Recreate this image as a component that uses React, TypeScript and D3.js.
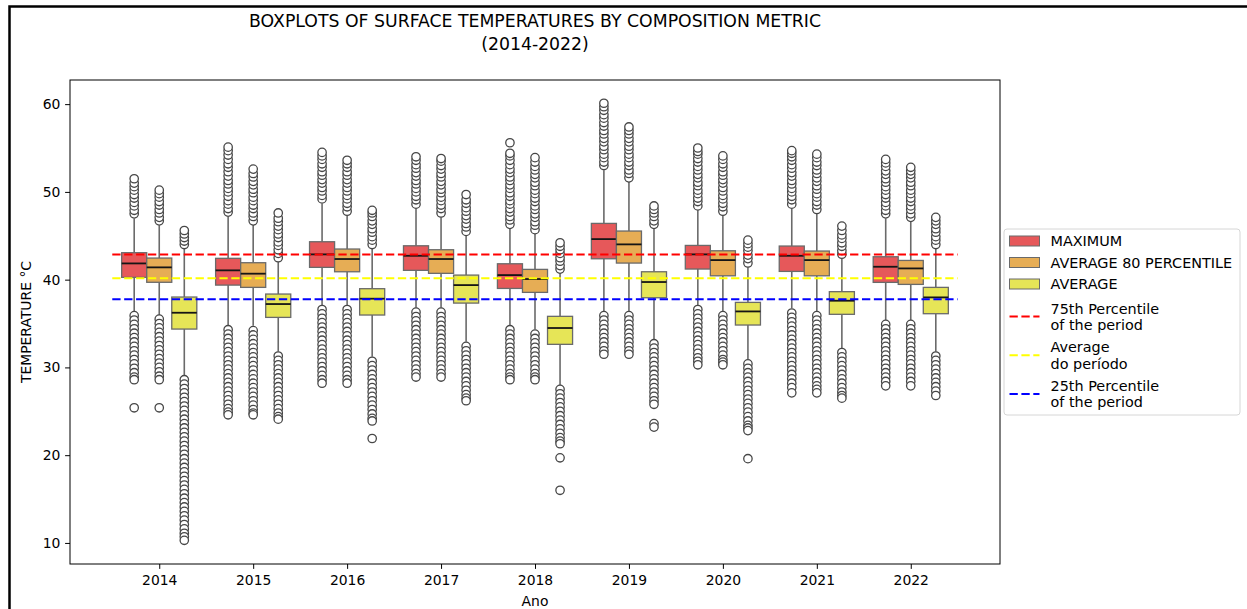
import React, { useEffect, useRef } from 'react';
import * as d3 from 'd3';

const years = ['2014', '2015', '2016', '2017', '2018', '2019', '2020', '2021', '2022'];
const metrics = ['MAXIMUM', 'AVERAGE 80 PERCENTILE', 'AVERAGE'];
const metricColors = ['#e6585a', '#e6ad55', '#e6e557'];

// [lower whisker, q1, median, q3, upper whisker] for each year
const maximumStats = [
  [36.35, 40.26, 41.85, 43.07, 46.98],
  [34.83, 39.38, 41.06, 42.43, 47.17],
  [37.1, 41.4, 42.88, 44.32, 48.69],
  [36.8, 41.06, 42.72, 43.86, 48.12],
  [34.83, 39.0, 40.52, 41.81, 45.84],
  [36.42, 42.38, 44.62, 46.41, 52.48],
  [37.1, 41.21, 42.88, 43.9, 47.93],
  [36.73, 40.94, 42.72, 43.83, 48.12],
  [35.4, 39.69, 41.47, 42.61, 46.98],
];
const avg80Stats = [
  [35.97, 39.7, 41.4, 42.46, 46.2],
  [34.75, 39.12, 40.68, 41.93, 46.22],
  [37.1, 40.9, 42.35, 43.49, 47.36],
  [36.8, 40.72, 42.35, 43.41, 47.17],
  [34.33, 38.55, 40.07, 41.17, 45.27],
  [36.42, 41.89, 44.02, 45.54, 51.15],
  [36.35, 40.44, 42.23, 43.29, 47.36],
  [36.35, 40.44, 42.23, 43.26, 47.55],
  [35.4, 39.46, 41.28, 42.19, 46.6],
];
const averageStats = [
  [29.1, 34.37, 36.23, 38.02, 43.56],
  [31.79, 35.7, 37.22, 38.36, 42.04],
  [31.22, 35.97, 37.83, 38.97, 43.56],
  [32.93, 37.33, 39.38, 40.52, 45.08],
  [28.0, 32.63, 34.49, 35.82, 40.72],
  [33.23, 37.94, 39.73, 40.9, 45.84],
  [30.92, 34.83, 36.38, 37.41, 41.47],
  [32.17, 36.05, 37.6, 38.63, 42.43],
  [31.79, 36.12, 37.98, 39.12, 43.56],
];

// outliers, per year
const maximumFliers = [
  [47.5, 47.9, 48.4, 48.8, 49.3, 49.7, 50.2, 50.6, 51.0, 51.5, 35.9, 35.4, 34.9, 34.4, 33.9, 33.4, 32.9, 32.4, 31.9, 31.4, 30.9, 30.4, 29.9, 29.4, 28.9, 28.6, 25.4],
  [47.7, 48.1, 48.6, 49.0, 49.5, 50.0, 50.4, 50.9, 51.3, 51.8, 52.3, 52.8, 53.2, 53.7, 54.2, 54.7, 55.1, 34.3, 33.8, 33.3, 32.8, 32.3, 31.8, 31.3, 30.8, 30.3, 29.8, 29.3, 28.8, 28.3, 27.8, 27.3, 26.8, 26.3, 25.8, 25.3, 24.9, 24.6],
  [49.2, 49.6, 50.1, 50.5, 51.0, 51.4, 51.9, 52.3, 52.8, 53.2, 53.7, 54.1, 54.5, 36.6, 36.1, 35.6, 35.1, 34.6, 34.1, 33.6, 33.1, 32.6, 32.1, 31.6, 31.1, 30.6, 30.1, 29.6, 29.1, 28.6, 28.2],
  [48.6, 49.1, 49.5, 50.0, 50.4, 50.9, 51.3, 51.8, 52.2, 52.7, 53.1, 53.6, 54.0, 36.3, 35.8, 35.3, 34.8, 34.3, 33.8, 33.3, 32.8, 32.3, 31.8, 31.3, 30.8, 30.3, 29.8, 29.3, 28.9],
  [46.3, 46.8, 47.2, 47.7, 48.1, 48.6, 49.0, 49.5, 49.9, 50.4, 50.8, 51.3, 51.7, 52.2, 52.6, 53.1, 53.6, 54.1, 54.4, 55.6, 34.3, 33.8, 33.3, 32.8, 32.3, 31.8, 31.3, 30.8, 30.3, 29.8, 29.3, 28.9, 28.6],
  [53.0, 53.4, 53.9, 54.3, 54.8, 55.2, 55.7, 56.1, 56.6, 57.0, 57.5, 57.9, 58.4, 58.8, 59.3, 59.7, 60.1, 35.9, 35.4, 34.9, 34.4, 33.9, 33.4, 32.9, 32.4, 31.9, 31.5],
  [48.4, 48.9, 49.3, 49.8, 50.2, 50.7, 51.1, 51.6, 52.0, 52.5, 52.9, 53.4, 53.8, 54.3, 54.6, 55.0, 36.6, 36.1, 35.6, 35.1, 34.6, 34.1, 33.6, 33.1, 32.6, 32.1, 31.6, 31.1, 30.7, 30.3],
  [48.6, 49.1, 49.5, 50.0, 50.4, 50.9, 51.3, 51.8, 52.2, 52.7, 53.1, 53.6, 54.0, 54.4, 54.7, 36.2, 35.7, 35.2, 34.7, 34.2, 33.7, 33.2, 32.7, 32.2, 31.7, 31.2, 30.7, 30.2, 29.7, 29.2, 28.7, 28.2, 27.7, 27.1],
  [47.5, 47.9, 48.4, 48.8, 49.3, 49.7, 50.2, 50.6, 51.1, 51.5, 52.0, 52.4, 52.9, 53.3, 53.7, 34.9, 34.4, 33.9, 33.4, 32.9, 32.4, 31.9, 31.4, 30.9, 30.4, 29.9, 29.4, 28.9, 28.4, 27.9],
];
const avg80Fliers = [
  [46.7, 47.1, 47.6, 48.0, 48.5, 48.9, 49.4, 49.8, 50.2, 35.5, 35.0, 34.5, 34.0, 33.5, 33.0, 32.5, 32.0, 31.5, 31.0, 30.5, 30.0, 29.5, 29.0, 28.6, 25.4],
  [46.7, 47.2, 47.6, 48.1, 48.5, 49.0, 49.4, 49.9, 50.3, 50.8, 51.2, 51.7, 52.1, 52.6, 34.2, 33.7, 33.2, 32.7, 32.2, 31.7, 31.2, 30.7, 30.2, 29.7, 29.2, 28.7, 28.2, 27.7, 27.2, 26.7, 26.2, 25.7, 25.2, 24.8, 24.6],
  [47.8, 48.3, 48.7, 49.2, 49.6, 50.1, 50.5, 51.0, 51.4, 51.9, 52.3, 52.8, 53.2, 53.6, 36.6, 36.1, 35.6, 35.1, 34.6, 34.1, 33.6, 33.1, 32.6, 32.1, 31.6, 31.1, 30.6, 30.1, 29.6, 29.1, 28.6, 28.2],
  [47.6, 48.1, 48.5, 49.0, 49.4, 49.9, 50.3, 50.8, 51.2, 51.7, 52.1, 52.6, 53.0, 53.5, 53.8, 36.3, 35.8, 35.3, 34.8, 34.3, 33.8, 33.3, 32.8, 32.3, 31.8, 31.3, 30.8, 30.3, 29.8, 29.3, 28.9],
  [45.7, 46.2, 46.6, 47.1, 47.5, 48.0, 48.4, 48.9, 49.3, 49.8, 50.2, 50.7, 51.1, 51.6, 52.0, 52.5, 52.9, 53.4, 53.9, 33.8, 33.3, 32.8, 32.3, 31.8, 31.3, 30.8, 30.3, 29.8, 29.3, 28.9, 28.6],
  [51.6, 52.1, 52.5, 53.0, 53.4, 53.9, 54.3, 54.8, 55.2, 55.7, 56.1, 56.6, 57.0, 57.4, 35.9, 35.4, 34.9, 34.4, 33.9, 33.4, 32.9, 32.4, 31.9, 31.5],
  [47.8, 48.3, 48.7, 49.2, 49.6, 50.1, 50.5, 51.0, 51.4, 51.9, 52.3, 52.8, 53.2, 53.7, 54.1, 35.9, 35.4, 34.9, 34.4, 33.9, 33.4, 32.9, 32.4, 31.9, 31.4, 30.9, 30.6, 30.3],
  [48.0, 48.5, 48.9, 49.4, 49.8, 50.3, 50.7, 51.2, 51.6, 52.1, 52.5, 53.0, 53.4, 53.9, 54.3, 35.9, 35.4, 34.9, 34.4, 33.9, 33.4, 32.9, 32.4, 31.9, 31.4, 30.9, 30.4, 29.9, 29.4, 28.9, 28.4, 27.9, 27.5, 27.1],
  [47.1, 47.5, 48.0, 48.4, 48.9, 49.3, 49.8, 50.2, 50.7, 51.1, 51.6, 52.0, 52.4, 52.8, 34.9, 34.4, 33.9, 33.4, 32.9, 32.4, 31.9, 31.4, 30.9, 30.4, 29.9, 29.4, 28.9, 28.4, 27.9],
];
const averageFliers = [
  [44.0, 44.4, 44.8, 45.2, 45.6, 28.6, 28.1, 27.6, 27.1, 26.6, 26.1, 25.6, 25.1, 24.6, 24.1, 23.6, 23.1, 22.6, 22.1, 21.6, 21.1, 20.6, 20.1, 19.6, 19.1, 18.6, 18.1, 17.6, 17.1, 16.6, 16.1, 15.6, 15.1, 14.6, 14.1, 13.6, 13.1, 12.6, 12.1, 11.6, 11.1, 10.7, 10.3],
  [42.5, 43.0, 43.4, 43.9, 44.3, 44.8, 45.2, 45.7, 46.1, 46.6, 47.0, 47.6, 31.3, 30.8, 30.3, 29.8, 29.3, 28.8, 28.3, 27.8, 27.3, 26.8, 26.3, 25.8, 25.3, 24.8, 24.4, 24.1],
  [44.0, 44.5, 44.9, 45.4, 45.8, 46.3, 46.7, 47.2, 47.6, 47.9, 30.7, 30.2, 29.7, 29.2, 28.7, 28.2, 27.7, 27.2, 26.7, 26.2, 25.7, 25.2, 24.7, 24.2, 23.9, 21.9],
  [45.5, 46.0, 46.4, 46.9, 47.3, 47.8, 48.2, 48.7, 49.1, 49.7, 32.4, 31.9, 31.4, 30.9, 30.4, 29.9, 29.4, 28.9, 28.4, 27.9, 27.4, 26.9, 26.5, 26.2],
  [41.2, 41.6, 42.1, 42.5, 43.0, 43.4, 43.8, 44.2, 27.5, 27.0, 26.5, 26.0, 25.5, 25.0, 24.5, 24.0, 23.5, 23.0, 22.5, 22.0, 21.6, 21.3, 19.7, 16.0],
  [46.3, 46.7, 47.2, 47.6, 48.0, 48.4, 32.7, 32.2, 31.7, 31.2, 30.7, 30.2, 29.7, 29.2, 28.7, 28.2, 27.7, 27.2, 26.7, 26.2, 25.8, 23.6, 23.2],
  [41.9, 42.4, 42.8, 43.3, 43.7, 44.1, 44.5, 30.4, 29.9, 29.4, 28.9, 28.4, 27.9, 27.4, 26.9, 26.4, 25.9, 25.4, 24.9, 24.4, 23.9, 23.4, 23.1, 22.8, 19.6],
  [42.9, 43.3, 43.8, 44.2, 44.7, 45.1, 45.6, 46.1, 31.7, 31.2, 30.7, 30.2, 29.7, 29.2, 28.7, 28.2, 27.7, 27.2, 26.8, 26.5],
  [44.0, 44.5, 44.9, 45.4, 45.8, 46.3, 46.7, 47.1, 31.3, 30.8, 30.3, 29.8, 29.3, 28.8, 28.3, 27.8, 27.3, 26.8],
];

// period reference lines
const refLabels = [['75th Percentile', 'of the period'], ['Average', 'do período'], ['25th Percentile', 'of the period']];
const refValues = [42.88, 40.15, 37.76];
const refColors = ['#ff0000', '#ffff00', '#0000ff'];

const yTicks = [10, 20, 30, 40, 50, 60];

const App = () => {
  const svgRef = useRef<SVGSVGElement>(null);

  useEffect(() => {
    const w = 1247;
    const h = 609;
    const font = 'DejaVu Sans, sans-serif';
    const svg = d3.select(svgRef.current).attr('width', w).attr('height', h);
    svg.selectAll('*').remove();

    const x = d3.scaleLinear().domain([-0.95, 8.95]).range([70, 1000]);
    const y = d3.scaleLinear().domain([7.6, 62.75]).range([564, 80]);
    const boxW = 0.8 / 3;
    const bw = x(boxW) - x(0);

    // outer figure frame
    svg.append('path').attr('d', 'M9.5,609 V6.5 H1247')
      .attr('fill', 'none').attr('stroke', '#000').attr('stroke-width', 2.5);

    // title
    const title = svg.append('text').attr('text-anchor', 'middle')
      .attr('font-family', font).attr('font-size', 17.3).attr('fill', '#000');
    title.append('tspan').attr('x', x(4)).attr('y', 27).text('BOXPLOTS OF SURFACE TEMPERATURES BY COMPOSITION METRIC');
    title.append('tspan').attr('x', x(4)).attr('y', 50).text('(2014-2022)');

    // axes
    const xAxis = d3.axisBottom(x)
      .tickValues(d3.range(years.length))
      .tickFormat((i) => years[i as number])
      .tickSize(4.9).tickSizeOuter(0);
    const gx = svg.append('g').attr('transform', 'translate(0,564)').call(xAxis);
    gx.select('.domain').remove();
    gx.selectAll('line').attr('stroke', '#000').attr('stroke-width', 1);
    gx.selectAll('text').attr('font-family', font).attr('font-size', 13.9)
      .attr('fill', '#000').attr('y', 21).attr('dy', 0);

    const yAxis = d3.axisLeft(y).tickValues(yTicks).tickSize(4.9).tickSizeOuter(0);
    const gy = svg.append('g').attr('transform', 'translate(70,0)').call(yAxis);
    gy.select('.domain').remove();
    gy.selectAll('line').attr('stroke', '#000').attr('stroke-width', 1);
    gy.selectAll('text').attr('font-family', font).attr('font-size', 13.9)
      .attr('fill', '#000').attr('x', -9.7);

    svg.append('text').attr('transform', 'translate(31,322) rotate(-90)')
      .attr('text-anchor', 'middle').attr('font-family', font).attr('font-size', 13.9)
      .text('TEMPERATURE °C');
    svg.append('text').attr('x', x(4)).attr('y', 606)
      .attr('text-anchor', 'middle').attr('font-family', font).attr('font-size', 13.9)
      .text('Ano');

    // boxes
    const series = [maximumStats, avg80Stats, averageStats];
    const fliers = [maximumFliers, avg80Fliers, averageFliers];
    const lineColor = '#6a6a6a';

    series.forEach((stats, k) => {
      const off = (k - 1) * boxW;
      const g = svg.append('g');

      g.selectAll('line.wlo').data(stats).join('line')
        .attr('x1', (d, i) => x(i + off)).attr('x2', (d, i) => x(i + off))
        .attr('y1', (d) => y(d[0])).attr('y2', (d) => y(d[1]))
        .attr('stroke', lineColor).attr('stroke-width', 1.6);
      g.selectAll('line.whi').data(stats).join('line')
        .attr('x1', (d, i) => x(i + off)).attr('x2', (d, i) => x(i + off))
        .attr('y1', (d) => y(d[3])).attr('y2', (d) => y(d[4]))
        .attr('stroke', lineColor).attr('stroke-width', 1.6);

      g.selectAll('rect.box').data(stats).join('rect')
        .attr('x', (d, i) => x(i + off) - bw / 2)
        .attr('width', bw)
        .attr('y', (d) => y(d[3]))
        .attr('height', (d) => y(d[1]) - y(d[3]))
        .attr('fill', metricColors[k])
        .attr('stroke', lineColor).attr('stroke-width', 1.3);

      g.selectAll('line.med').data(stats).join('line')
        .attr('x1', (d, i) => x(i + off) - bw / 2).attr('x2', (d, i) => x(i + off) + bw / 2)
        .attr('y1', (d) => y(d[2])).attr('y2', (d) => y(d[2]))
        .attr('stroke', '#151515').attr('stroke-width', 1.8);

      const pts = fliers[k].flatMap((vals, i) => vals.map((v) => ({ i, v })));
      g.selectAll('circle').data(pts).join('circle')
        .attr('cx', (d) => x(d.i + off)).attr('cy', (d) => y(d.v))
        .attr('r', 4.2)
        .attr('fill', '#fff').attr('stroke', '#474747').attr('stroke-width', 1.3);
    });

    // reference lines
    svg.selectAll('line.ref').data(refValues).join('line')
      .attr('x1', x(-0.5)).attr('x2', x(years.length - 0.5))
      .attr('y1', (d) => y(d)).attr('y2', (d) => y(d))
      .attr('stroke', (d, i) => refColors[i]).attr('stroke-width', 2)
      .attr('stroke-dasharray', '8.3,3.6');

    // spines
    svg.append('rect').attr('x', 70).attr('y', 80).attr('width', 930).attr('height', 484)
      .attr('fill', 'none').attr('stroke', '#000').attr('stroke-width', 1);

    // legend
    const lg = svg.append('g').attr('transform', 'translate(1004,229)');
    lg.append('rect').attr('width', 236).attr('height', 186).attr('rx', 3)
      .attr('fill', '#fff').attr('stroke', '#d6d6d6');
    metrics.forEach((m, k) => {
      const cy = 12 + k * 21.5;
      lg.append('rect').attr('x', 5.5).attr('y', cy - 5).attr('width', 30).attr('height', 10)
        .attr('fill', metricColors[k]).attr('stroke', lineColor).attr('stroke-width', 1);
      lg.append('text').attr('x', 46.5).attr('y', cy + 5)
        .attr('font-family', font).attr('font-size', 14.4).text(m);
    });
    refLabels.forEach((lines, k) => {
      const cy = 87.5 + k * 38.8;
      lg.append('line').attr('x1', 5.5).attr('x2', 35.5).attr('y1', cy).attr('y2', cy)
        .attr('stroke', refColors[k]).attr('stroke-width', 2).attr('stroke-dasharray', '8.3,3.6');
      const t = lg.append('text').attr('font-family', font).attr('font-size', 14.4);
      lines.forEach((s, j) => {
        t.append('tspan').attr('x', 46.5).attr('y', cy - 3 + j * 16.3).text(s);
      });
    });
  }, []);

  return (
    <div style={{ position: 'absolute', left: 0, top: 0 }}>
      <svg ref={svgRef} style={{ display: 'block' }}></svg>
    </div>
  );
};

export default App;
